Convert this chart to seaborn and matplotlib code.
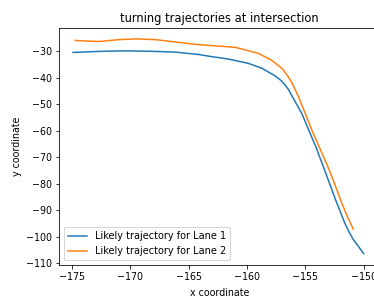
import seaborn as sns
import pandas as pd
import matplotlib
matplotlib.use('Agg')
import matplotlib.pyplot as plt

# Lane 1 (blue) trajectory
lane1_x = [-174.9, -172.5, -170.4, -168.0, -166.1, -164.1, -163.3, -161.6, -159.9, -158.7, -157.6,
           -157.1, -156.7, -156.4, -156.1, -155.3, -154.7, -154.1, -153.4, -152.4, -151.6, -151.2,
           -150.9, -150.4, -150.0]
lane1_y = [-30.5, -30.1, -29.9, -30.1, -30.4, -31.3, -31.9, -33.0, -34.6, -36.5, -39.3,
           -41.0, -42.9, -44.8, -47.2, -53.5, -59.8, -66.0, -74.2, -86.1, -95.0, -98.6,
           -100.9, -103.9, -106.3]

# Lane 2 (orange) trajectory
lane2_x = [-174.7, -173.7, -172.7, -171.0, -169.5, -167.8, -166.1, -164.1, -162.1, -161.0, -160.1,
           -159.0, -157.9, -157.0, -156.6, -156.2, -155.6, -155.0, -154.4, -153.7, -153.0, -152.7,
           -152.3, -151.9, -151.4, -150.9]
lane2_y = [-26.0, -26.2, -26.4, -25.7, -25.4, -25.7, -26.6, -27.6, -28.2, -28.6, -29.6,
           -30.9, -33.4, -36.5, -38.8, -41.5, -47.0, -53.5, -60.2, -67.2, -74.2, -77.6,
           -82.2, -87.0, -92.3, -97.0]

labels = ['Likely trajectory for Lane 1', 'Likely trajectory for Lane 2']

df = pd.concat([
    pd.DataFrame({'x': lane1_x, 'y': lane1_y, 'lane': labels[0]}),
    pd.DataFrame({'x': lane2_x, 'y': lane2_y, 'lane': labels[1]}),
])

plt.rcParams['font.size'] = 9.5

fig = plt.figure(figsize=(374 / 72, 296 / 72), dpi=72)
ax = fig.add_axes([59 / 374, 31 / 296, 321 / 374, 237 / 296])
sns.lineplot(data=df, x='x', y='y', hue='lane', sort=False, ax=ax,
             palette=['#1f77b4', '#ff7f0e'], linewidth=1.5)

ax.set_xlim(-176.1, -148.6)
ax.set_ylim(-110.6, -21.3)
ax.set_xticks([-175, -170, -165, -160, -155, -150])
ax.set_yticks(range(-110, -29, 10))
ax.set_title('turning trajectories at intersection', fontsize=11.5)
ax.set_xlabel('x coordinate', labelpad=6)
ax.set_ylabel('y coordinate')
ax.legend(title=None, loc='lower left', fontsize=9.8)

fig.savefig('out.png', dpi=72)
